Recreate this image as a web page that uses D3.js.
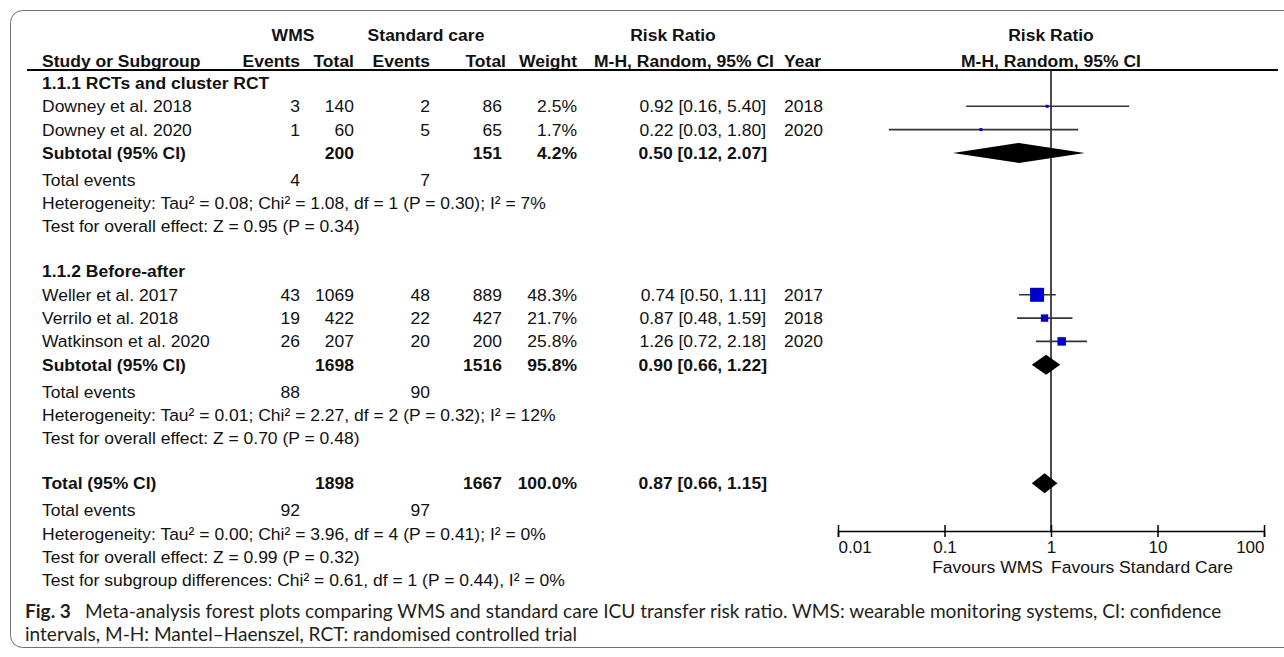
<!DOCTYPE html>
<html>
<head>
<meta charset="utf-8">
<script src="https://cdn.jsdelivr.net/npm/d3@7"></script>
<style>
  body { margin: 0; background: #fff; }
  svg { display: block; }
</style>
</head>
<body>
<svg id="chart" width="1284" height="657"></svg>
<script>
// ---------- study-level data ----------
const studyNames  = ["Downey et al. 2018", "Downey et al. 2020", "Weller et al. 2017", "Verrilo et al. 2018", "Watkinson et al. 2020"];
const studyGroup  = [0, 0, 1, 1, 1];
const wmsEvents   = [3, 1, 43, 19, 26];
const wmsTotal    = [140, 60, 1069, 422, 207];
const scEvents    = [2, 5, 48, 22, 20];
const scTotal     = [86, 65, 889, 427, 200];
const weights     = [2.5, 1.7, 48.3, 21.7, 25.8];
const riskRatio   = [0.92, 0.22, 0.74, 0.87, 1.26];
const ciLower     = [0.16, 0.03, 0.50, 0.48, 0.72];
const ciUpper     = [5.40, 1.80, 1.11, 1.59, 2.18];
const studyYears  = [2018, 2020, 2017, 2018, 2020];

// ---------- subgroup data ----------
const groupTitles    = ["1.1.1 RCTs and cluster RCT", "1.1.2 Before-after"];
const groupWmsTotal  = [200, 1698];
const groupScTotal   = [151, 1516];
const groupWeight    = [4.2, 95.8];
const groupRR        = [0.50, 0.90];
const groupLower     = [0.12, 0.66];
const groupUpper     = [2.07, 1.22];
const groupWmsEvents = [4, 88];
const groupScEvents  = [7, 90];
const groupHetText   = ["Heterogeneity: Tau\u00b2 = 0.08; Chi\u00b2 = 1.08, df = 1 (P = 0.30); I\u00b2 = 7%",
                        "Heterogeneity: Tau\u00b2 = 0.01; Chi\u00b2 = 2.27, df = 2 (P = 0.32); I\u00b2 = 12%"];
const groupTestText  = ["Test for overall effect: Z = 0.95 (P = 0.34)",
                        "Test for overall effect: Z = 0.70 (P = 0.48)"];

// ---------- pooled data ----------
const totalWms       = 1898;
const totalSc        = 1667;
const totalWeight    = 100.0;
const totalRR        = 0.87;
const totalLower     = 0.66;
const totalUpper     = 1.15;
const totalWmsEvents = 92;
const totalScEvents  = 97;
const totalHetText   = "Heterogeneity: Tau\u00b2 = 0.00; Chi\u00b2 = 3.96, df = 4 (P = 0.41); I\u00b2 = 0%";
const totalTestText  = "Test for overall effect: Z = 0.99 (P = 0.32)";
const subgroupText   = "Test for subgroup differences: Chi\u00b2 = 0.61, df = 1 (P = 0.44), I\u00b2 = 0%";

// ---------- axis and captions ----------
const axisTicks    = [0.01, 0.1, 1, 10, 100];
const favourLabels = ["Favours WMS", "Favours Standard Care"];
const captionTag   = "Fig. 3";
const captionLine1 = "Meta-analysis forest plots comparing WMS and standard care ICU transfer risk ratio. WMS: wearable monitoring systems, CI: confidence";
const captionLine2 = "intervals, M-H: Mantel\u2013Haenszel, RCT: randomised controlled trial";

// ---------- drawing ----------
const svg = d3.select("#chart");
const FONT = "'Liberation Sans', Arial, sans-serif";
const FS = 17;
const SX = 1.03;
const INK = "#111";

// rounded frame around the figure
svg.append("rect")
  .attr("x", 10.5).attr("y", 10.5)
  .attr("width", 1320).attr("height", 637)
  .attr("rx", 12).attr("ry", 12)
  .attr("fill", "none").attr("stroke", "#707070").attr("stroke-width", 1);

const table = svg.append("g");

function txt(x, y, s, opt = {}) {
  return table.append("text")
    .attr("transform", `translate(${x},${y}) scale(${SX},1)`)
    .attr("dy", "0.35em")
    .attr("text-anchor", opt.anchor || "start")
    .style("font-family", FONT)
    .style("font-size", (opt.size || FS) + "px")
    .style("font-weight", opt.bold ? "700" : "400")
    .attr("fill", INK)
    .text(s);
}

// column anchors
const col = { name: 42, wmsEv: 300, wmsTot: 354, scEv: 430, scTot: 502, weight: 577, rr: 766, year: 784 };
const f2 = d3.format(".2f");
const f1 = d3.format(".1f");
const rrText = (r, l, h) => `${f2(r)} [${f2(l)}, ${f2(h)}]`;

// header
const h1 = 35, h2 = 61, headerLine = 70;
txt(293, h1, "WMS", { anchor: "middle", bold: true });
txt(426, h1, "Standard care", { anchor: "middle", bold: true });
txt(673, h1, "Risk Ratio", { anchor: "middle", bold: true });
txt(col.name, h2, "Study or Subgroup", { bold: true });
txt(col.wmsEv, h2, "Events", { anchor: "end", bold: true });
txt(col.wmsTot, h2, "Total", { anchor: "end", bold: true });
txt(col.scEv, h2, "Events", { anchor: "end", bold: true });
txt(col.scTot + 4, h2, "Total", { anchor: "end", bold: true });
txt(col.weight, h2, "Weight", { anchor: "end", bold: true });
txt(684, h2, "M-H, Random, 95% CI", { anchor: "middle", bold: true });
txt(col.year, h2, "Year", { bold: true });

// forest scale
const x = d3.scaleLog().domain([0.01, 100]).range([838, 1264]);
const xMid = x(1);
txt(xMid, h1, "Risk Ratio", { anchor: "middle", bold: true });
txt(xMid, h2, "M-H, Random, 95% CI", { anchor: "middle", bold: true });

svg.append("line")
  .attr("x1", 27).attr("x2", 1278).attr("y1", headerLine).attr("y2", headerLine)
  .attr("stroke", "#000").attr("stroke-width", 2);

// row layout
const STEP = 23.3, SUB_GAP = 27, BLANK_GAP = 45;
let y = 83;
const forestRows = [];   // {y, kind, ...}

const sizeScale = d3.scalePow().exponent(0.8).domain([0, d3.max(weights)]).range([0, 14]);

groupTitles.forEach((title, g) => {
  txt(col.name, y, title, { bold: true });
  studyNames.forEach((name, i) => {
    if (studyGroup[i] !== g) return;
    y += STEP;
    txt(col.name, y, name);
    txt(col.wmsEv, y, wmsEvents[i], { anchor: "end" });
    txt(col.wmsTot, y, wmsTotal[i], { anchor: "end" });
    txt(col.scEv, y, scEvents[i], { anchor: "end" });
    txt(col.scTot, y, scTotal[i], { anchor: "end" });
    txt(col.weight, y, f1(weights[i]) + "%", { anchor: "end" });
    txt(col.rr, y, rrText(riskRatio[i], ciLower[i], ciUpper[i]), { anchor: "end" });
    txt(col.year, y, studyYears[i]);
    forestRows.push({ kind: "study", y, rr: riskRatio[i], lo: ciLower[i], hi: ciUpper[i], w: weights[i] });
  });
  y += STEP;
  txt(col.name, y, "Subtotal (95% CI)", { bold: true });
  txt(col.wmsTot, y, groupWmsTotal[g], { anchor: "end", bold: true });
  txt(col.scTot, y, groupScTotal[g], { anchor: "end", bold: true });
  txt(col.weight, y, f1(groupWeight[g]) + "%", { anchor: "end", bold: true });
  txt(col.rr + 1, y, rrText(groupRR[g], groupLower[g], groupUpper[g]), { anchor: "end", bold: true });
  forestRows.push({ kind: "pooled", y, rr: groupRR[g], lo: groupLower[g], hi: groupUpper[g] });
  y += SUB_GAP;
  txt(col.name, y, "Total events");
  txt(col.wmsEv, y, groupWmsEvents[g], { anchor: "end" });
  txt(col.scEv, y, groupScEvents[g], { anchor: "end" });
  y += STEP;
  txt(col.name, y, groupHetText[g]);
  y += STEP;
  txt(col.name, y, groupTestText[g]);
  y += BLANK_GAP;
});

// overall pooled rows
txt(col.name, y, "Total (95% CI)", { bold: true });
txt(col.wmsTot, y, totalWms, { anchor: "end", bold: true });
txt(col.scTot, y, totalSc, { anchor: "end", bold: true });
txt(col.weight, y, f1(totalWeight) + "%", { anchor: "end", bold: true });
txt(col.rr + 1, y, rrText(totalRR, totalLower, totalUpper), { anchor: "end", bold: true });
forestRows.push({ kind: "pooled", y, rr: totalRR, lo: totalLower, hi: totalUpper });
y += SUB_GAP;
txt(col.name, y, "Total events");
txt(col.wmsEv, y, totalWmsEvents, { anchor: "end" });
txt(col.scEv, y, totalScEvents, { anchor: "end" });
y += STEP;
txt(col.name, y, totalHetText);
y += STEP;
txt(col.name, y, totalTestText);
y += STEP;
txt(col.name, y, subgroupText);

// ---------- forest plot ----------
const axisY = 531;
const plot = svg.append("g");

plot.append("line")
  .attr("x1", xMid).attr("x2", xMid).attr("y1", headerLine).attr("y2", axisY)
  .attr("stroke", "#111").attr("stroke-width", 1.5);

const studiesF = forestRows.filter(d => d.kind === "study");
plot.selectAll("line.ci").data(studiesF).join("line")
  .attr("class", "ci")
  .attr("x1", d => x(d.lo)).attr("x2", d => x(d.hi))
  .attr("y1", d => d.y).attr("y2", d => d.y)
  .attr("stroke", "#333").attr("stroke-width", 1.6);

plot.selectAll("rect.box").data(studiesF).join("rect")
  .attr("class", "box")
  .attr("x", d => x(d.rr) - Math.max(3, sizeScale(d.w)) / 2)
  .attr("y", d => d.y - Math.max(3, sizeScale(d.w)) / 2)
  .attr("width", d => Math.max(3, sizeScale(d.w)))
  .attr("height", d => Math.max(3, sizeScale(d.w)))
  .attr("fill", "#0000cc");

const HALF = 10;
plot.selectAll("path.diamond").data(forestRows.filter(d => d.kind === "pooled")).join("path")
  .attr("class", "diamond")
  .attr("d", d => `M${x(d.lo)},${d.y} L${x(d.rr)},${d.y - HALF} L${x(d.hi)},${d.y} L${x(d.rr)},${d.y + HALF} Z`)
  .attr("fill", "#000");

// axis
const axis = plot.append("g")
  .attr("transform", `translate(0,${axisY})`)
  .call(d3.axisBottom(x).tickValues(axisTicks).tickFormat(d => String(d)).tickSizeOuter(0).tickSize(6));
axis.select(".domain").attr("stroke", "#000").attr("stroke-width", 1.5);
axis.selectAll(".tick line").attr("y1", -6).attr("y2", 6).attr("stroke", "#000").attr("stroke-width", 1.5);
axis.selectAll(".tick text")
  .attr("y", 10)
  .style("font-family", FONT).style("font-size", FS + "px").attr("fill", INK)
  .attr("text-anchor", (d, i, n) => i === 0 ? "start" : (i === n.length - 1 ? "end" : "middle"));

txt(xMid - 8, 567, favourLabels[0], { anchor: "end" });
txt(xMid, 567, favourLabels[1]);

// ---------- caption ----------
const CAP_FONT = "Lato, 'Open Sans', sans-serif";
const capColor = "#231f20";
const cap = svg.append("g").style("font-family", CAP_FONT).attr("fill", capColor);
const l1 = cap.append("text").attr("x", 25).attr("y", 611).attr("dy", "0.35em").style("font-size", "16px");
const tag = l1.append("tspan").style("font-weight", "700").text(captionTag);
const rest = l1.append("tspan").attr("x", 85).text(captionLine1);
const l2 = cap.append("text").attr("x", 25).attr("y", 634).attr("dy", "0.35em").style("font-size", "16px").text(captionLine2);
// scale the caption so the first line spans the figure width
const measured = rest.node().getComputedTextLength();
const capSize = 16 * (1222 - 85) / measured;
l1.style("font-size", capSize + "px");
l2.style("font-size", capSize + "px");
</script>
</body>
</html>
